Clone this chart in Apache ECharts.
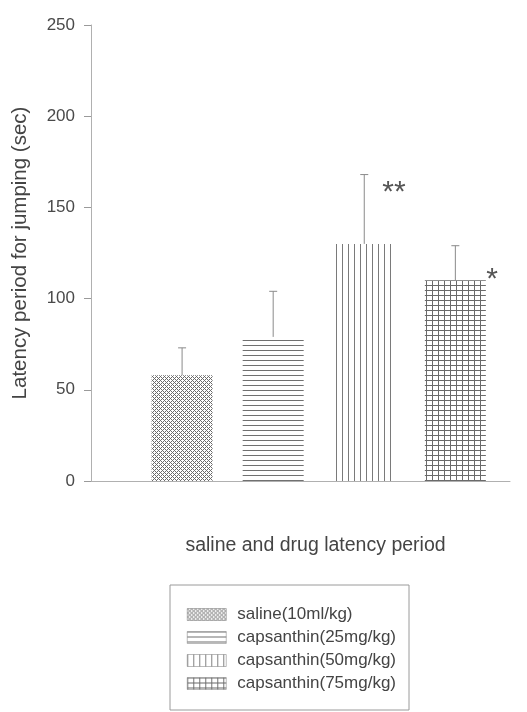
<!DOCTYPE html>
<html>
<head>
<meta charset="utf-8">
<script src="https://cdn.jsdelivr.net/npm/echarts@6/dist/echarts.min.js"></script>
<style>
  html, body { margin: 0; padding: 0; background: #fff; }
  #chart { width: 527px; height: 712px; }
</style>
</head>
<body>
<div id="chart"></div>
<script>
// ---- data ----
const groups = ['saline(10ml/kg)', 'capsanthin(25mg/kg)', 'capsanthin(50mg/kg)', 'capsanthin(75mg/kg)'];
const positions = [1, 2, 3, 4];
const means = [58, 79, 130, 110];
const sds = [15, 25, 38, 19];
const significance = ['', '', '**', '*'];
const yTicks = [0, 50, 100, 150, 200, 250];

// ---- patterns ----
function makePattern(w, h, draw) {
  const c = document.createElement('canvas');
  c.width = w; c.height = h;
  const ctx = c.getContext('2d');
  ctx.fillStyle = '#ffffff';
  ctx.fillRect(0, 0, w, h);
  draw(ctx, w, h);
  return { image: c, repeat: 'repeat' };
}
const patterns = [
  makePattern(4, 4, function (ctx) {
    ctx.fillStyle = '#6a6a6a';
    [[0,0],[1,1],[2,2],[3,3],[1,3],[3,1]].forEach(function (p) { ctx.fillRect(p[0], p[1], 1, 1); });
  }),
  makePattern(5, 5, function (ctx, w) {
    ctx.fillStyle = '#707070';
    ctx.fillRect(0, 0, w, 1);
  }),
  makePattern(6, 6, function (ctx, w, h) {
    ctx.fillStyle = '#7a7a7a';
    ctx.fillRect(0, 0, 1, h);
  }),
  makePattern(6, 5, function (ctx, w, h) {
    ctx.fillStyle = '#6a6a6a';
    ctx.fillRect(0, 0, 1, h);
    ctx.fillRect(0, 0, w, 1);
  })
];

const FONT = '"Liberation Sans", Arial, sans-serif';
const chart = echarts.init(document.getElementById('chart'), null, { renderer: 'canvas' });

const barSeries = groups.map(function (name, i) {
  return {
    name: name,
    type: 'bar',
    barWidth: 61,
    barGap: '-100%',
    itemStyle: { color: patterns[i] },
    data: [[positions[i], means[i]]],
    z: 2
  };
});

const errData = positions.map(function (p, i) { return [p, means[i], sds[i], i]; });

const errSeries = {
  type: 'custom',
  name: 'err',
  z: 3,
  data: errData,
  renderItem: function (params, api) {
    const x = api.value(0), m = api.value(1), s = api.value(2), idx = api.value(3);
    const p0 = api.coord([x, m]);
    const p1 = api.coord([x, m + s]);
    const lineStyle = { stroke: '#8a8a8a', lineWidth: 1 };
    const children = [
      { type: 'line', shape: { x1: p0[0], y1: p0[1], x2: p1[0], y2: p1[1] }, style: lineStyle },
      { type: 'line', shape: { x1: p1[0] - 4, y1: p1[1], x2: p1[0] + 4, y2: p1[1] }, style: lineStyle }
    ];
    const sig = significance[idx];
    if (sig) {
      let tx, ty;
      if (idx === 2) { tx = p0[0] + 18; ty = p1[1] + 18; }
      else { tx = p0[0] + 31; ty = p0[1] - 1; }
      children.push({
        type: 'text',
        style: { text: sig, x: tx, y: ty, fill: '#555', font: '30px ' + FONT, textAlign: 'left', textVerticalAlign: 'middle' }
      });
    }
    return { type: 'group', children: children };
  }
};

chart.setOption({
  animation: false,
  backgroundColor: '#ffffff',
  grid: { left: 91, top: 25, right: 17, bottom: 231, containLabel: false, outerBoundsMode: 'none' },
  xAxis: {
    type: 'value',
    min: 0,
    max: 4.6,
    name: 'saline and drug latency period',
    nameLocation: 'middle',
    nameGap: 55,
    nameTextStyle: { fontFamily: FONT, fontSize: 19.5, color: '#444', padding: [0, 0, 0, 30] },
    axisLine: { show: true, onZero: false, lineStyle: { color: '#b0b0b0', width: 1 } },
    axisTick: { show: false },
    axisLabel: { show: false },
    splitLine: { show: false }
  },
  yAxis: {
    type: 'value',
    min: yTicks[0],
    max: yTicks[yTicks.length - 1],
    interval: yTicks[1] - yTicks[0],
    name: 'Latency period for jumping (sec)',
    nameLocation: 'middle',
    nameGap: 60,
    nameTextStyle: { fontFamily: FONT, fontSize: 20.5, color: '#444' },
    axisLine: { show: true, lineStyle: { color: '#b0b0b0', width: 1 } },
    axisTick: { show: true, inside: false, length: 7, lineStyle: { color: '#9a9a9a' } },
    axisLabel: { fontFamily: FONT, fontSize: 17, color: '#4a4a4a', margin: 16 },
    splitLine: { show: false }
  },
  legend: {
    orient: 'vertical',
    left: 170,
    top: 585,
    data: groups,
    itemWidth: 39,
    itemHeight: 12,
    itemGap: 6,
    padding: [21, 13, 18, 17],
    borderColor: '#9a9a9a',
    borderWidth: 1,
    icon: 'rect',
    selectedMode: false,
    itemStyle: { borderColor: '#777', borderWidth: 0.5 },
    textStyle: { fontFamily: FONT, fontSize: 17, color: '#444', padding: [0, 0, 0, 6] }
  },
  series: barSeries.concat([errSeries])
});
</script>
</body>
</html>
